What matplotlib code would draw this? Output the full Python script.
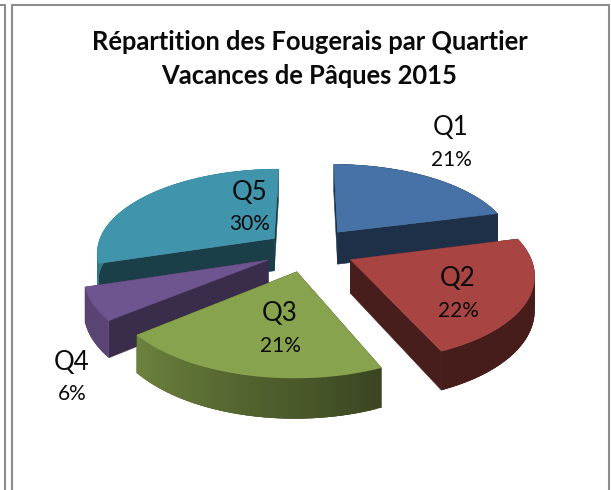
import numpy as np
import matplotlib
matplotlib.use("Agg")
import matplotlib.pyplot as plt
from matplotlib.patches import Polygon
from matplotlib.colors import to_rgb

title_lines = ["Répartition des Fougerais par Quartier", "Vacances de Pâques 2015"]
quartiers = ["Q1", "Q2", "Q3", "Q4", "Q5"]
shares = [21.0, 22.45, 20.6, 6.1, 29.85]
colors = ["#4672a8", "#a84543", "#88a34d", "#6f5590", "#4095ad"]
draw_order = [0, 4, 3, 1, 2]
label_px = {"Q1": (451, 127, 160), "Q2": (458, 278, 311), "Q3": (280, 313, 346),
            "Q4": (72, 362, 394), "Q5": (250, 192, 224)}
side_factor = {"Q1": .42, "Q2": .43, "Q3": .42, "Q4": .52, "Q5": .42}
explode = {"Q1": .28, "Q2": .26, "Q3": .26, "Q4": .25, "Q5": .24}

CX, CY, RX, RY, PERSP, DEPTH = 308, 250, 178, 83, .15, 33

fig = plt.figure(figsize=(6.11, 4.90), dpi=100)
ax = fig.add_axes([0, 0, 1, 1])
ax.set_xlim(0, 611); ax.set_ylim(490, 0); ax.axis("off")

def project(theta, r, mid, ex, drop=0.0):
    wx = r*np.sin(theta) + ex*np.sin(mid)
    wy = -r*np.cos(theta) - ex*np.cos(mid)
    f = 1/(1 - PERSP*wy)
    return np.column_stack([CX + RX*wx*f, CY + RY*wy*f + drop*f])

def shade(c, k):
    return tuple(np.array(to_rgb(c))*k)

def rim_light(deg):
    return np.interp(deg, [0, 155, 230, 360], [.42, .42, .8, .8])

cum = np.cumsum([0] + shares)/sum(shares)*2*np.pi
for i in draw_order:
    a0, a1 = cum[i], cum[i+1]
    mid = (a0+a1)/2
    q = quartiers[i]
    ex = explode[q]
    col = colors[i]
    dark = shade(col, side_factor[q])
    z = 1 + draw_order.index(i)
    th = np.linspace(a0, a1, 60)
    for a in (a0, a1):
        t = np.array([a])
        top = np.vstack([project(t, 0, mid, ex), project(t, 1, mid, ex)])
        bot = np.vstack([project(t, 1, mid, ex, DEPTH), project(t, 0, mid, ex, DEPTH)])
        ax.add_patch(Polygon(np.vstack([top, bot]), closed=True, fc=dark, ec=dark, lw=.4, zorder=z))
    for k in range(len(th)-1):
        t = np.array([th[k], th[min(k+3, len(th)-1)]])
        quad = np.vstack([project(t, 1, mid, ex), project(t[::-1], 1, mid, ex, DEPTH)])
        c = shade(col, rim_light(np.degrees((th[k]+th[k+1])/2)))
        ax.add_patch(Polygon(quad, closed=True, fc=c, ec="none", zorder=z))
    poly = np.vstack([project(np.array([a0]), 0, mid, ex), project(th, 1, mid, ex)])
    ax.add_patch(Polygon(poly, closed=True, fc=col, ec=col, lw=.3, zorder=z))

gray = "#8c8c8c"
ax.plot([11.5, 11.5, 608.5, 608.5], [490, 5, 5, 490], color=gray, lw=1.5, zorder=0)
ax.plot([0, 4.5, 4.5], [5, 5, 490], color=gray, lw=1.5, zorder=0)

for y, line in zip((42, 76), title_lines):
    ax.text(309.5, y, line, ha="center", va="center", fontsize=18.4, fontweight="bold",
            family="Lato", color="#0a0a0a", zorder=20)
for q, s in zip(quartiers, shares):
    x, y1, y2 = label_px[q]
    ax.text(x, y1, q, ha="center", va="center", fontsize=18.5, family="Lato", color="#0a0a0a", zorder=20)
    ax.text(x, y2, f"{round(s)}%", ha="center", va="center", fontsize=15, family="Lato", color="#0a0a0a", zorder=20)

fig.savefig("out.png", dpi=100, facecolor="white")
